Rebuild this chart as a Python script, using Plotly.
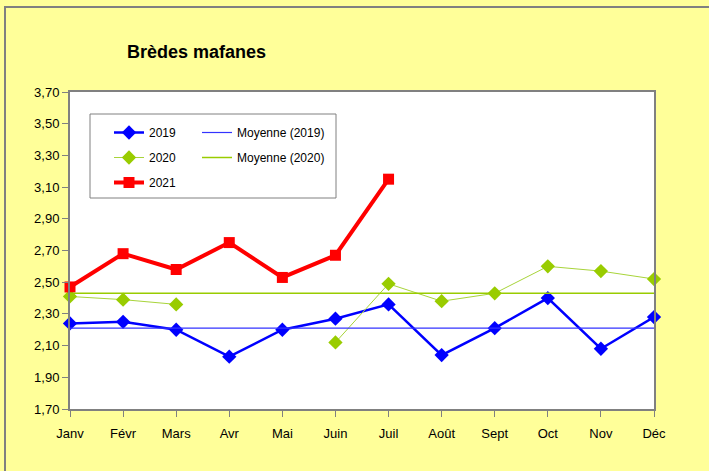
import plotly.graph_objects as go

months = ["Janv", "Févr", "Mars", "Avr", "Mai", "Juin", "Juil", "Août", "Sept", "Oct", "Nov", "Déc"]
y2019 = [2.24, 2.25, 2.20, 2.03, 2.20, 2.27, 2.36, 2.04, 2.21, 2.40, 2.08, 2.28]
y2020 = [2.41, 2.39, 2.36, None, None, 2.12, 2.49, 2.38, 2.43, 2.60, 2.57, 2.52]
y2021 = [2.47, 2.68, 2.58, 2.75, 2.53, 2.67, 3.15]
mean2019 = 2.21
mean2020 = 2.43
ytick_vals = [1.70, 1.90, 2.10, 2.30, 2.50, 2.70, 2.90, 3.10, 3.30, 3.50, 3.70]

W, H = 709, 471
L, R, T, B = 70, 654, 92, 409


def px(x):
    return (x - L) / (R - L)


def py(y):
    return (B - y) / (B - T)


FONT = "Liberation Sans, Arial, sans-serif"

fig = go.Figure()
fig.add_trace(go.Scatter(x=months, y=y2019, name="2019", mode="lines+markers",
                         line=dict(color="#0000FF", width=2.5),
                         marker=dict(symbol="diamond", size=11, color="#0000FF"),
                         legend="legend", legendgroup="a", cliponaxis=False))
fig.add_trace(go.Scatter(x=months, y=y2020, name="2020", mode="lines+markers",
                         line=dict(color="#A8D43A", width=1),
                         marker=dict(symbol="diamond", size=11, color="#99CC00"),
                         connectgaps=False,
                         legend="legend", legendgroup="b", cliponaxis=False))
fig.add_trace(go.Scatter(x=months[:len(y2021)], y=y2021, name="2021", mode="lines+markers",
                         line=dict(color="#FF0000", width=4),
                         marker=dict(symbol="square", size=11, color="#FF0000"),
                         legend="legend", legendgroup="c", cliponaxis=False))
fig.add_trace(go.Scatter(x=months, y=[mean2019] * len(months), name="Moyenne (2019)", mode="lines",
                         line=dict(color="#3333FF", width=1.2),
                         legend="legend2", legendgroup="d", cliponaxis=False))
fig.add_trace(go.Scatter(x=months, y=[mean2020] * len(months), name="Moyenne (2020)", mode="lines",
                         line=dict(color="#99CC00", width=1.5),
                         legend="legend2", legendgroup="e", cliponaxis=False))

legend_common = dict(bgcolor="rgba(0,0,0,0)", borderwidth=0, font=dict(family=FONT, size=12, color="#000000"),
                     orientation="v", xanchor="left", yanchor="top", traceorder="grouped",
                     tracegroupgap=6)

fig.update_layout(
    width=W, height=H,
    margin=dict(l=L, r=W - R, t=T, b=H - B, pad=0),
    paper_bgcolor="#FFFF99",
    plot_bgcolor="#FFFFFF",
    font=dict(family=FONT, size=13, color="#000000"),
    separators=", ",
    showlegend=True,
    legend=dict(x=px(109), y=py(118), **legend_common),
    legend2=dict(x=px(197), y=py(118), **legend_common),
    xaxis=dict(type="category", categoryorder="array", categoryarray=months,
               range=[0, len(months) - 1], showgrid=False, zeroline=False,
               showline=True, linecolor="#808080", linewidth=2, mirror=True,
               ticks="outside", ticklen=6, tickcolor="#808080", tickwidth=1,
               ticklabelstandoff=5, tickfont=dict(size=13)),
    yaxis=dict(range=[ytick_vals[0], ytick_vals[-1]], tickvals=ytick_vals, tickformat=".2f",
               showgrid=False, zeroline=False,
               showline=True, linecolor="#808080", linewidth=2, mirror=True,
               ticks="outside", ticklen=6, tickcolor="#808080", tickwidth=1,
               tickfont=dict(size=13)),
    shapes=[
        dict(type="rect", xref="paper", yref="paper", x0=px(90), x1=px(336), y0=py(198), y1=py(114),
             line=dict(color="#808080", width=1), fillcolor="#FFFFFF", layer="above"),
        dict(type="rect", xref="paper", yref="paper", x0=px(5), x1=px(760), y0=py(520), y1=py(7),
             line=dict(color="#808080", width=2), fillcolor="rgba(0,0,0,0)", layer="above"),
    ],
    annotations=[
        dict(text="<b>Brèdes mafanes</b>", xref="paper", yref="paper", x=px(125), y=py(52),
             xanchor="left", yanchor="middle", showarrow=False,
             font=dict(family=FONT, size=18, color="#000000")),
    ],
)

fig.write_html("out.html", config={"displayModeBar": False},
               post_script="document.body.style.margin='0';document.body.style.overflow='hidden';")
